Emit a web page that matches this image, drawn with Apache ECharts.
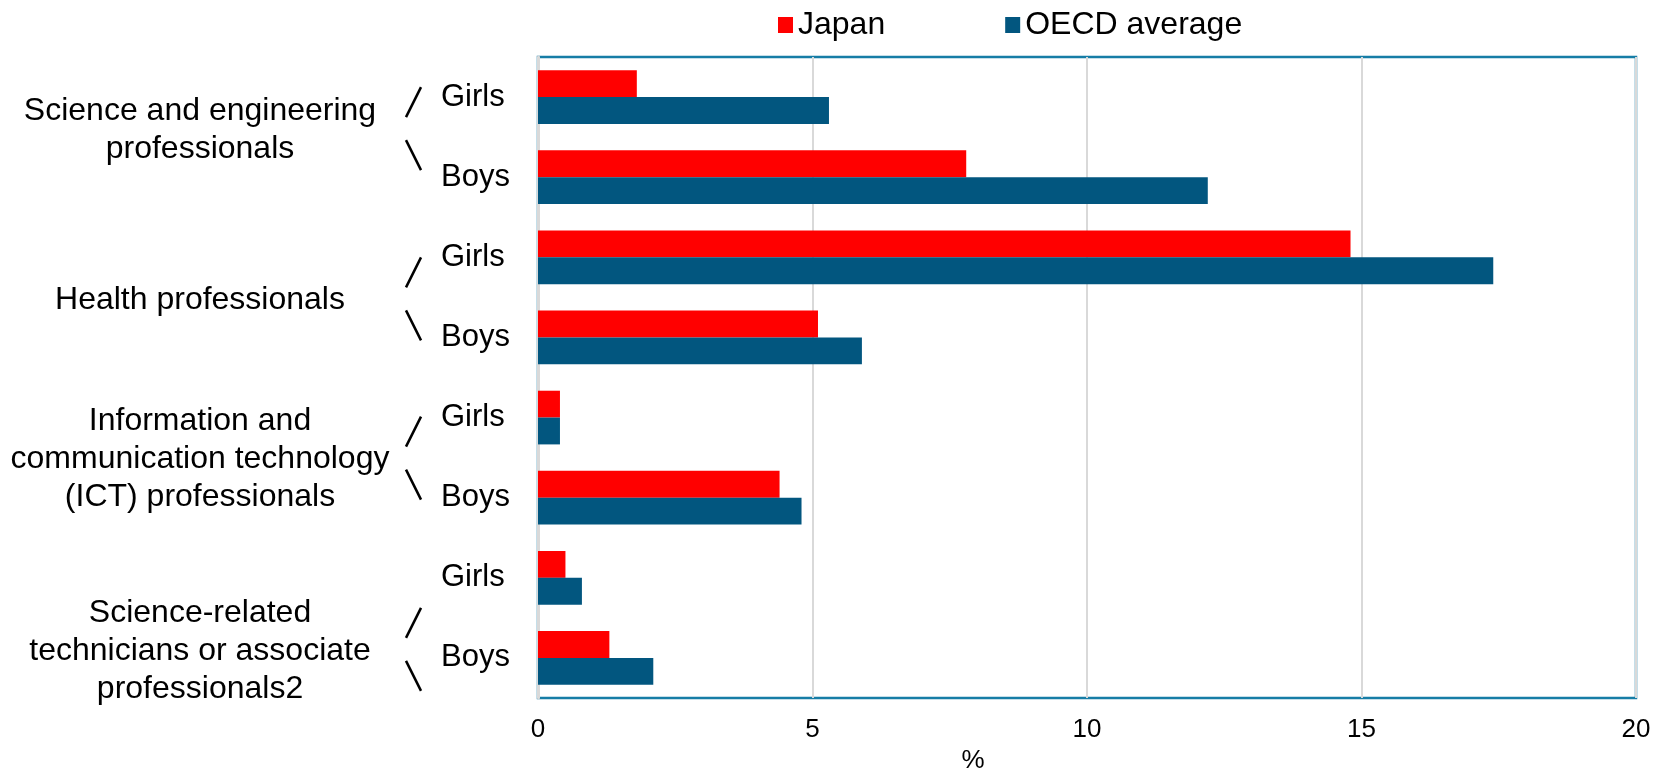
<!DOCTYPE html>
<html>
<head>
<meta charset="utf-8">
<script src="https://cdn.jsdelivr.net/npm/echarts@6/dist/echarts.min.js"></script>
<style>
  html, body { margin: 0; padding: 0; background: #fff; }
  #main { width: 1656px; height: 771px; }
</style>
</head>
<body>
<div id="main"></div>
<script>
// occupation groups (outer labels) and the two rows inside each
var groups = [
    'Science and engineering\nprofessionals',
    'Health professionals',
    'Information and\ncommunication technology\n(ICT) professionals',
    'Science-related\ntechnicians or associate\nprofessionals2'
];
var genders = ['Girls', 'Boys'];
// % of students expecting to work in the occupation, per row (Girls, Boys per group)
var japan = [1.8, 7.8, 14.8, 5.1, 0.4, 4.4, 0.5, 1.3];
var oecd  = [5.3, 12.2, 17.4, 5.9, 0.4, 4.8, 0.8, 2.1];
var xTicks = [0, 5, 10, 15, 20];

// little nudges Excel gave the outer labels
var labelShift = [-7, 3, 2, 33];

var cats = [];
groups.forEach(function () {
    genders.forEach(function (g) { cats.push(g); });
});

var font = '"Liberation Sans", Arial, sans-serif';
var chart = echarts.init(document.getElementById('main'));

var option = {
    backgroundColor: '#fff',
    animation: false,
    textStyle: { fontFamily: font, color: '#000' },
    legend: {
        top: 4,
        left: 773,
        icon: 'rect',
        itemWidth: 15,
        itemHeight: 16,
        itemGap: 120,
        textStyle: { fontSize: 32, color: '#000', fontFamily: font },
        data: ['Japan', 'OECD average']
    },
    grid: {
        left: 538,
        right: 20,
        top: 57,
        bottom: 73,
        show: true,
        borderColor: '#167DA6',
        borderWidth: 2.5,
        containLabel: false,
        outerBoundsMode: 'none'
    },
    xAxis: {
        type: 'value',
        min: xTicks[0],
        max: xTicks[xTicks.length - 1],
        interval: xTicks[1] - xTicks[0],
        name: '%',
        nameLocation: 'middle',
        nameGap: 46,
        nameTextStyle: { fontSize: 26, color: '#000', padding: [0, 228, 0, 0] },
        axisLine: { show: false },
        axisTick: { show: false },
        axisLabel: { fontSize: 26, margin: 19, color: '#000' },
        splitLine: { lineStyle: { color: '#d9d9d9', width: 2 } }
    },
    yAxis: {
        type: 'category',
        inverse: true,
        data: cats,
        axisLine: { lineStyle: { color: '#d9d9d9', width: 3 } },
        axisTick: { show: false },
        axisLabel: { fontSize: 31, align: 'left', margin: 97, color: '#000' }
    },
    series: [
        {
            name: 'Japan',
            type: 'bar',
            barGap: '0%',
            barCategoryGap: '33%',
            itemStyle: { color: '#FF0000' },
            data: japan
        },
        {
            name: 'OECD average',
            type: 'bar',
            barGap: '0%',
            barCategoryGap: '33%',
            itemStyle: { color: '#02567F' },
            data: oecd
        }
    ]
};
chart.setOption(option);

// outer group labels + the / \ connectors, placed off the category axis
var els = [];
groups.forEach(function (name, g) {
    var y0 = chart.convertToPixel({ yAxisIndex: 0 }, 2 * g);
    var y1 = chart.convertToPixel({ yAxisIndex: 0 }, 2 * g + 1);
    var yc = (y0 + y1) / 2 + labelShift[g];
    els.push({
        type: 'text',
        x: 200,
        y: yc,
        style: {
            text: name,
            font: '32px ' + font,
            fill: '#000',
            textAlign: 'center',
            textVerticalAlign: 'middle',
            align: 'center',
            verticalAlign: 'middle',
            lineHeight: 38
        }
    });
    els.push({
        type: 'line',
        shape: { x1: 421, y1: yc - 28 - 15, x2: 406, y2: yc - 28 + 15 },
        style: { stroke: '#000', lineWidth: 2.5 }
    });
    els.push({
        type: 'line',
        shape: { x1: 406, y1: yc + 25 - 15, x2: 421, y2: yc + 25 + 15 },
        style: { stroke: '#000', lineWidth: 2.5 }
    });
});
chart.setOption({ graphic: els });
</script>
</body>
</html>
